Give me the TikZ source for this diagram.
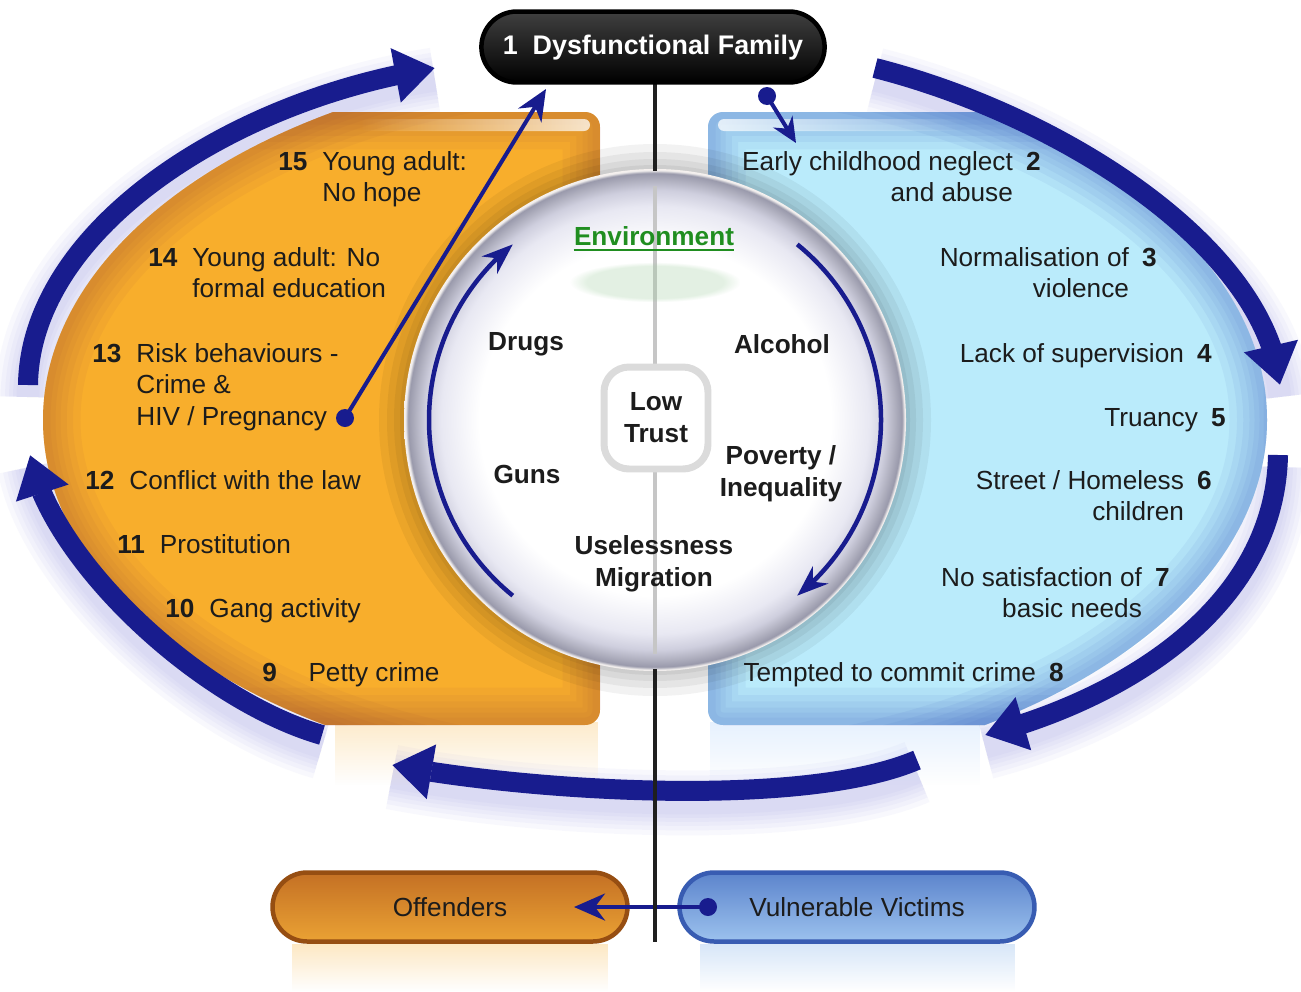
\documentclass[tikz,border=0pt]{standalone}
\usepackage{fontspec}
\setmainfont{Liberation Sans}
\usetikzlibrary{arrows.meta,shapes.misc,fadings,bending}

\definecolor{navy}{RGB}{24,28,142}
\definecolor{glowblue}{RGB}{130,130,225}
\definecolor{orangefill}{RGB}{248,174,44}
\definecolor{orangerim}{RGB}{165,85,60}
\definecolor{bluefill}{RGB}{186,235,251}
\definecolor{bluerim}{RGB}{62,96,192}
\definecolor{envgreen}{RGB}{32,142,32}
\definecolor{inktext}{RGB}{28,28,28}
\definecolor{offtop}{RGB}{196,112,36}
\definecolor{offbottom}{RGB}{234,162,52}
\definecolor{offrim}{RGB}{150,78,18}
\definecolor{victop}{RGB}{92,132,204}
\definecolor{vicbottom}{RGB}{156,194,238}
\definecolor{vicrim}{RGB}{56,92,178}

\tikzfading[name=fadedown, top color=transparent!0, bottom color=transparent!100]
\tikzfading[name=fadetoleft, left color=transparent!100, right color=transparent!0]
\tikzfading[name=fadetoright, left color=transparent!0, right color=transparent!100]

% white disc with a bevelled grey rim (radius of the disc = 25bp)
\pgfdeclareradialshading{discshade}{\pgfpoint{0bp}{0bp}}{%
  rgb(0bp)=(1,1,1); rgb(17.5bp)=(1,1,1); rgb(21.3bp)=(0.91,0.91,0.95);
  rgb(22.9bp)=(0.81,0.81,0.87); rgb(23.9bp)=(0.69,0.69,0.75);
  rgb(24.6bp)=(0.6,0.6,0.67); rgb(24.85bp)=(0.93,0.92,0.92); rgb(25bp)=(0.97,0.95,0.94);
  rgb(50bp)=(0.97,0.95,0.94)}

\begin{document}
\begin{tikzpicture}[x=0.02cm, y=-0.02cm,
  txt/.style={font=\fontsize{14.9}{18.2}\selectfont, text=inktext, inner sep=0pt},
  boldtxt/.style={font=\fontsize{14.9}{18.2}\selectfont\bfseries, text=inktext, inner sep=0pt, align=center},
  bigarrow/.style={draw=navy, line width=0.4cm, -{Triangle[length=0.8cm, width=1.05cm]}},
  glowline/.style={draw=glowblue, opacity=0.05, transform canvas={yshift=-0.24cm}},
  thinarrow/.style={draw=navy, line width=0.08cm, -{Stealth[length=0.62cm, width=0.54cm]}},
  innerarrow/.style={draw=navy, line width=0.09cm, -{Stealth[length=0.62cm, width=0.46cm]}},
  dotnode/.style={circle, fill=navy, inner sep=0pt, minimum size=0.36cm},
  pill/.style={rounded rectangle, minimum width=7.1cm, minimum height=1.38cm, line width=0.09cm},
  gloss/.style={white, rounded corners=0.16cm, path fading=fadedown},
  spine/.style={black!88, line width=0.08cm},
]
\useasboundingbox (0,0) rectangle (1301,991);
\fill[white] (0,0) rectangle (1301,991);

\coordinate (C) at (655,420);

% outer cycle: end points and control points of the five arcs
\coordinate (a0) at (28,385);   \coordinate (a1) at (30,230);   \coordinate (a2) at (230,100);  \coordinate (a3) at (435,68);
\coordinate (b0) at (875,68);   \coordinate (b1) at (1060,115); \coordinate (b2) at (1265,245); \coordinate (b3) at (1280,385);
\coordinate (c0) at (1278,455); \coordinate (c1) at (1275,610); \coordinate (c2) at (1120,700); \coordinate (c3) at (985,735);
\coordinate (d0) at (917,760);  \coordinate (d1) at (800,810);  \coordinate (d2) at (520,790);  \coordinate (d3) at (392,765);
\coordinate (e0) at (322,735);  \coordinate (e1) at (200,700);  \coordinate (e2) at (50,560);   \coordinate (e3) at (30,455);

% soft lavender glow under the cycle arrows
\foreach \w in {1.3,1.1,0.92,0.76,0.6,0.46} {
  \draw[glowline, line width=\w cm] (a0) .. controls (a1) and (a2) .. (a3);
  \draw[glowline, line width=\w cm] (b0) .. controls (b1) and (b2) .. (b3);
  \draw[glowline, line width=\w cm] (c0) .. controls (c1) and (c2) .. (c3);
  \draw[glowline, line width=\w cm] (d0) .. controls (d1) and (d2) .. (d3);
  \draw[glowline, line width=\w cm] (e0) .. controls (e1) and (e2) .. (e3);
}

% reflections under the panels and pills
\fill[orangefill!80, path fading=fadedown, opacity=.3] (335,722) rectangle (598,785);
\fill[bluefill!85!blue, path fading=fadedown, opacity=.25] (710,722) rectangle (980,785);
\fill[orangefill!70, path fading=fadedown, opacity=.4] (292,944) rectangle (608,991);
\fill[vicbottom, path fading=fadedown, opacity=.4] (700,944) rectangle (1015,991);

% the two half panels
\begin{scope}
  \clip (C) ellipse [x radius=612, y radius=362];
  \begin{scope}
    \clip[rounded corners=0.3cm] (0,112) rectangle (600,725);
    \fill[orangefill] (0,112) rectangle (600,725);
    \foreach \w in {1.5,1.2,0.95,0.7,0.5,0.3} {
      \draw[orangerim, line width=\w cm, opacity=0.07] (C) ellipse [x radius=612, y radius=362];
      \draw[orangerim, line width=\w cm, opacity=0.07, rounded corners=0.3cm] (0,112) rectangle (600,725);
    }
  \end{scope}
  \begin{scope}
    \clip[rounded corners=0.3cm] (708,112) rectangle (1301,725);
    \fill[bluefill] (708,112) rectangle (1301,725);
    \foreach \w in {1.5,1.2,0.95,0.7,0.5,0.3} {
      \draw[bluerim, line width=\w cm, opacity=0.07] (C) ellipse [x radius=612, y radius=362];
      \draw[bluerim, line width=\w cm, opacity=0.07, rounded corners=0.3cm] (708,112) rectangle (1301,725);
    }
  \end{scope}
\end{scope}
\fill[white, opacity=.75, rounded corners=0.12cm, path fading=fadetoleft] (360,119) rectangle (590,131);
\fill[white, opacity=.75, rounded corners=0.12cm, path fading=fadetoright] (718,119) rectangle (962,131);

% environment disc with its soft shadow
\foreach \r in {276,268,261,255} {
  \fill[black, opacity=0.05] (C) circle (\r);
}
\shade[shading=discshade] (C) circle (251);
\draw[gray!45, line width=0.07cm] (655,186) -- (655,654);
\fill[envgreen!45, opacity=.28, path fading=circle with fuzzy edge 20 percent] (570,262) rectangle (740,302);

\draw[innerarrow] ([shift={(129:226)}]C) arc[start angle=129, end angle=231, radius=226];
\draw[innerarrow] ([shift={(-51:226)}]C) arc[start angle=-51, end angle=51, radius=226];

\node[boldtxt, draw=gray!28, line width=0.14cm, fill=white, rounded corners=0.5cm,
      minimum width=2.08cm, minimum height=2.04cm] (lowtrust) at (656,418) {Low\\Trust};

\node[boldtxt, text=envgreen] (env) at (654,236) {Environment};
\draw[envgreen, line width=0.045cm] ([yshift=-0.1cm]env.base west) -- ([yshift=-0.1cm]env.base east);
\node[boldtxt] (drugs) at (526,344) {Drugs};
\node[boldtxt] (alcohol) at (782,344) {Alcohol};
\node[boldtxt] (guns) at (527,474) {Guns};
\node[boldtxt] (poverty) at (781,474) {Poverty /\\Inequality};
\node[boldtxt] (useless) at (654,564) {Uselessness\\Migration};

% stages on the offender side
\node[txt, anchor=base west] (s15) at (278,170) {\begin{tabular}[t]{@{}l@{\hspace{8.5pt}}l@{}}\textbf{15} & Young adult:\\ & No hope\end{tabular}};
\node[txt, anchor=base west] (s14) at (148,266) {\begin{tabular}[t]{@{}l@{\hspace{8.5pt}}l@{}}\textbf{14} & Young adult: No\\ & formal education\end{tabular}};
\node[txt, anchor=base west] (s13) at (92,362) {\begin{tabular}[t]{@{}l@{\hspace{8.5pt}}l@{}}\textbf{13} & Risk behaviours -\\ & Crime \&\\ & HIV / Pregnancy\end{tabular}};
\node[txt, anchor=base west] (s12) at (85,489) {\begin{tabular}[t]{@{}l@{\hspace{8.5pt}}l@{}}\textbf{12} & Conflict with the law\end{tabular}};
\node[txt, anchor=base west] (s11) at (117,553) {\begin{tabular}[t]{@{}l@{\hspace{8.5pt}}l@{}}\textbf{11} & Prostitution\end{tabular}};
\node[txt, anchor=base west] (s10) at (165,617) {\begin{tabular}[t]{@{}l@{\hspace{8.5pt}}l@{}}\textbf{10} & Gang activity\end{tabular}};
\node[txt, anchor=base west] (s9) at (262,681) {\begin{tabular}[t]{@{}l@{\hspace{18pt}}l@{}}\textbf{9} & Petty crime\end{tabular}};

% stages on the victim side
\node[txt, anchor=base east] (s2) at (1041,170) {\begin{tabular}[t]{@{}r@{\hspace{7.5pt}}l@{}}Early childhood neglect & \textbf{2}\\ and abuse & \end{tabular}};
\node[txt, anchor=base east] (s3) at (1157,266) {\begin{tabular}[t]{@{}r@{\hspace{7.5pt}}l@{}}Normalisation of & \textbf{3}\\ violence & \end{tabular}};
\node[txt, anchor=base east] (s4) at (1212,362) {\begin{tabular}[t]{@{}r@{\hspace{7.5pt}}l@{}}Lack of supervision & \textbf{4}\end{tabular}};
\node[txt, anchor=base east] (s5) at (1226,426) {\begin{tabular}[t]{@{}r@{\hspace{7.5pt}}l@{}}Truancy & \textbf{5}\end{tabular}};
\node[txt, anchor=base east] (s6) at (1212,489) {\begin{tabular}[t]{@{}r@{\hspace{7.5pt}}l@{}}Street / Homeless & \textbf{6}\\ children & \end{tabular}};
\node[txt, anchor=base east] (s7) at (1170,586) {\begin{tabular}[t]{@{}r@{\hspace{7.5pt}}l@{}}No satisfaction of & \textbf{7}\\ basic needs & \end{tabular}};
\node[txt, anchor=base east] (s8) at (1064,681) {\begin{tabular}[t]{@{}r@{\hspace{7.5pt}}l@{}}Tempted to commit crime & \textbf{8}\end{tabular}};

% the cycle arrows
\draw[bigarrow] (a0) .. controls (a1) and (a2) .. (a3);
\draw[bigarrow] (b0) .. controls (b1) and (b2) .. (b3);
\draw[bigarrow] (c0) .. controls (c1) and (c2) .. (c3);
\draw[bigarrow] (d0) .. controls (d1) and (d2) .. (d3);
\draw[bigarrow] (e0) .. controls (e1) and (e2) .. (e3);

% links back to the family and into the victim side
\node[dotnode] (pdot) at (345,418) {};
\coordinate (ptip) at (546,89);
\draw[thinarrow] (pdot.center) -- (ptip);
\node[dotnode] (edot) at (767,96) {};
\coordinate (etip) at (796,143);
\draw[draw=navy, line width=0.08cm, -{Stealth[length=0.5cm, width=0.45cm]}] (edot.center) -- (etip);

% bottom pills and the link between them
\node[pill, txt, draw=offrim, top color=offtop, bottom color=offbottom,
      path picture={\fill[gloss, opacity=.85] (298,882) rectangle (602,899);}] (offenders) at (450,907) {Offenders};
\node[pill, txt, draw=vicrim, top color=victop, bottom color=vicbottom,
      path picture={\fill[gloss, opacity=.85] (706,882) rectangle (1010,899);}] (victims) at (857,907) {Vulnerable Victims};
\node[dotnode] (vdot) at (708,907) {};
\coordinate (vtip) at (574,907);
\draw[thinarrow] (vdot.center) -- (vtip);

% centre spine, outside the disc
\draw[spine] (655,80) -- (655,171);
\draw[spine] (655,669) -- (655,942);

% title pill
\node[pill, minimum width=7.1cm, minimum height=1.42cm, draw=black, top color=black!75, bottom color=black,
      path picture={\fill[gloss, opacity=.42] (503,21) rectangle (803,46);}] (familybox) at (653,47) {};
\node[boldtxt, text=white, font=\fontsize{15.3}{18}\selectfont\bfseries] (family) at (653,48) {1\hspace{0.55em}Dysfunctional Family};
\end{tikzpicture}
\end{document}
